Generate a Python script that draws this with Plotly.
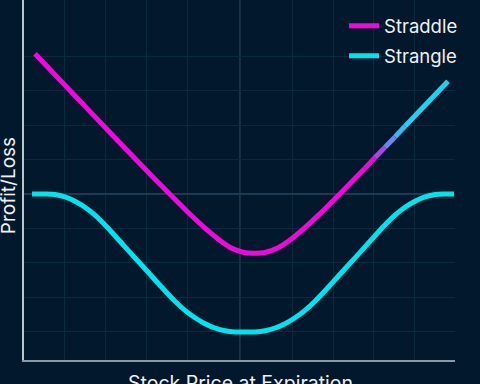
import plotly.graph_objects as go

# ---------------- data ----------------
straddle_x = [2.55, 10.67, 18.79, 26.91, 33.87, 38.52, 42.00, 45.48, 48.26, 51.04, 53.50,
              55.92, 58.70, 61.48, 64.97, 68.45, 73.09, 79.12, 81.44, 83.76, 86.08, 88.40, 98.38]
straddle_y = [4.08, 3.01, 1.94, 0.88, -0.01, -0.59, -0.99, -1.35, -1.58, -1.70, -1.72,
              -1.70, -1.58, -1.36, -1.00, -0.60, -0.02, 0.75, 1.06, 1.36, 1.66, 1.97, 3.28]

strangle_x = [1.86, 5.34, 7.19, 9.51, 11.83, 14.15, 16.47, 19.26, 22.27, 25.75, 29.23, 32.71,
              35.03, 37.35, 39.68, 42.00, 44.32, 46.64, 48.96, 51.28, 53.60, 55.92, 58.24,
              60.56, 62.88, 65.20, 67.52, 69.84, 73.32, 76.80, 80.28, 83.29, 86.08, 88.40,
              90.72, 93.04, 95.36, 97.22, 99.77]
strangle_y = [0.0, 0.0, -0.017, -0.086, -0.209, -0.385, -0.614, -0.959, -1.375, -1.855, -2.334, -2.814,
              -3.119, -3.382, -3.599, -3.770, -3.896, -3.976, -4.010, -4.012, -4.010, -3.976, -3.896,
              -3.770, -3.599, -3.382, -3.119, -2.814, -2.334, -1.855, -1.375, -0.959, -0.614, -0.385,
              -0.209, -0.086, -0.017, 0.0, 0.0]

gradient_start = 17          # straddle point where its colour begins to shift
gradient_colors = ["#e80ad8", "#aa44e2", "#6a88ea", "#38b8f0"]
end_color = "#20d2ee"

strike = 50.1
grid_x = [9.5, 19.0, 28.5, 38.0, 62.2, 71.7, 81.0, 90.5]
grid_y = [-4, -3, -2, -1, 1, 2, 3, 4]

MAGENTA = "#ee0ad8"
CYAN = "#00e4ee"
BG = "#02182c"
GRID = "#0b2a40"
ZERO = "#1c3a52"
TEXT = "#eef2f6"
FONT = "Inter"

fig = go.Figure()

fig.add_trace(go.Scatter(
    x=straddle_x[:gradient_start + 1], y=straddle_y[:gradient_start + 1],
    mode="lines", line=dict(color=MAGENTA, width=5, shape="spline", smoothing=0.5),
    name="Straddle", legendgroup="a", showlegend=True))

for i in range(gradient_start, len(straddle_x) - 2):
    fig.add_trace(go.Scatter(
        x=straddle_x[i:i + 2], y=straddle_y[i:i + 2], mode="lines",
        line=dict(color=gradient_colors[i - gradient_start], width=5),
        showlegend=False, hoverinfo="skip"))
fig.add_trace(go.Scatter(
    x=straddle_x[-2:], y=straddle_y[-2:], mode="lines",
    line=dict(color=end_color, width=5), showlegend=False, hoverinfo="skip"))

fig.add_trace(go.Scatter(
    x=strangle_x, y=strangle_y, mode="lines",
    line=dict(color=CYAN, width=5, shape="spline", smoothing=0.5),
    name="Strangle", legendgroup="b", showlegend=True))

fig.add_shape(type="line", xref="x", yref="paper", x0=strike, x1=strike, y0=0, y1=1,
              line=dict(color=ZERO, width=1.5), layer="below")

fig.update_layout(
    width=480, height=384,
    margin=dict(l=24, r=25, t=0, b=24),
    paper_bgcolor=BG, plot_bgcolor=BG,
    font=dict(family=FONT, color=TEXT),
    showlegend=True,
    legend=dict(x=0.7425, y=0.98, xanchor="left", yanchor="top",
                bgcolor="rgba(0,0,0,0)", font=dict(size=18.5, color=TEXT),
                traceorder="grouped", tracegroupgap=3),
    xaxis=dict(range=[0, 100], tickvals=grid_x, showticklabels=False, ticks="",
               showgrid=True, gridcolor=GRID, gridwidth=1, zeroline=False,
               showline=True, linecolor="#8c9aa8", linewidth=1.5, fixedrange=True),
    yaxis=dict(range=[-4.826, 5.64], tickvals=grid_y, showticklabels=False, ticks="",
               showgrid=True, gridcolor=GRID, gridwidth=1,
               zeroline=True, zerolinecolor=ZERO, zerolinewidth=1.5,
               showline=True, linecolor="#bcc4cc", linewidth=1.5, fixedrange=True),
    annotations=[
        dict(text="Profit/Loss", xref="paper", yref="paper", x=-0.037, y=0.483,
             xanchor="center", yanchor="middle", textangle=-90, showarrow=False,
             font=dict(size=19, color=TEXT, family=FONT)),
        dict(text="Stock Price at Expiration", xref="paper", yref="paper", x=0.503, y=-0.026,
             xanchor="center", yanchor="top", showarrow=False,
             font=dict(size=19.5, color=TEXT, family=FONT)),
    ],
)

fig.write_html("out.html", config={"displayModeBar": False},
               post_script="document.body.style.margin='0';document.body.style.overflow='hidden';")
